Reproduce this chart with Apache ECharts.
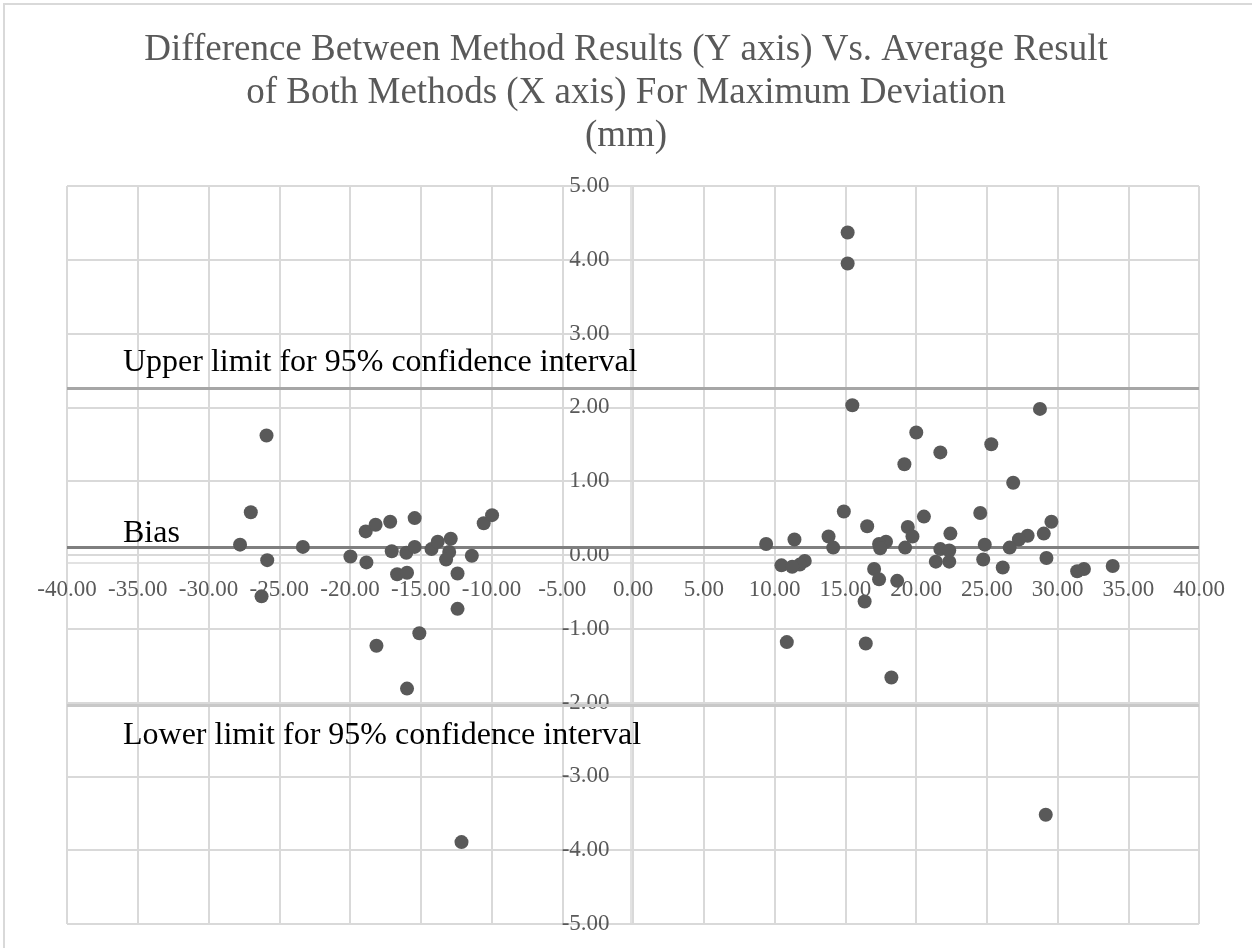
<!DOCTYPE html>
<html>
<head>
<meta charset="utf-8">
<script src="https://cdn.jsdelivr.net/npm/echarts@6/dist/echarts.min.js"></script>
<style>
  html, body { margin: 0; padding: 0; background: #fff; }
  #chart { width: 1252px; height: 948px; }
</style>
</head>
<body>
<div id="chart"></div>
<script>
// average of both methods (x) and difference between methods (y)
const avgX = [
  -25.90, -27.01, -27.77, -25.85, -23.33, -19.97, -18.89, -18.19, -18.84, -17.16,
  -17.05, -15.43, -16.02, -15.43, -14.24, -13.80, -12.88, -12.99, -13.21, -11.39,
  -10.55, -9.96, -16.67, -15.97, -12.40, -26.25, -12.40, -15.10, -18.13, -15.97,
  -12.12,
  15.17, 15.17, 15.50, 28.76, 20.02, 25.32, 21.72, 19.18, 26.87, 14.90,
  24.54, 20.56, 29.57, 16.55, 19.42, 22.43, 29.03, 27.89, 27.27, 13.82,
  11.41, 9.41, 19.75, 17.88, 17.39, 14.15, 19.23, 17.47, 24.86, 26.62,
  21.72, 22.35, 29.22, 24.75, 21.40, 22.35, 12.14, 11.79, 10.49, 11.25,
  26.13, 33.90, 31.87, 31.39, 17.04, 17.39, 18.67, 16.37, 10.87, 16.45,
  18.26, 29.17
];
const diffY = [
  1.62, 0.58, 0.14, -0.07, 0.11, -0.02, 0.32, 0.41, -0.10, 0.45,
  0.05, 0.50, 0.03, 0.11, 0.08, 0.18, 0.22, 0.04, -0.06, -0.01,
  0.43, 0.54, -0.26, -0.24, -0.25, -0.56, -0.73, -1.06, -1.23, -1.81,
  -3.89,
  4.37, 3.95, 2.03, 1.98, 1.66, 1.50, 1.39, 1.23, 0.98, 0.59,
  0.57, 0.52, 0.45, 0.39, 0.38, 0.29, 0.29, 0.26, 0.21, 0.25,
  0.21, 0.15, 0.25, 0.18, 0.15, 0.10, 0.10, 0.09, 0.14, 0.10,
  0.08, 0.06, -0.04, -0.06, -0.09, -0.09, -0.08, -0.13, -0.14, -0.16,
  -0.17, -0.15, -0.19, -0.22, -0.19, -0.33, -0.35, -0.63, -1.18, -1.20,
  -1.66, -3.52
];
const upperLimit = 2.26;
const bias = 0.11;
const lowerLimit = -2.04;
const limitNames = ['Upper limit for 95% confidence interval', 'Bias', 'Lower limit for 95% confidence interval'];

const points = avgX.map((x, i) => [x, diffY[i]]);
const serif = 'Liberation Serif';
const gridColor = '#d9d9d9';
const textColor = '#595959';

const chart = echarts.init(document.getElementById('chart'), null, { renderer: 'canvas' });

chart.setOption({
  animation: false,
  backgroundColor: '#fff',
  title: {
    text: 'Difference Between Method Results (Y axis) Vs. Average Result\nof Both Methods (X axis) For Maximum Deviation\n(mm)',
    left: 'center',
    top: 24,
    textStyle: {
      fontFamily: serif,
      fontSize: 37,
      fontWeight: 'normal',
      color: textColor,
      lineHeight: 43
    }
  },
  graphic: [{
    type: 'rect',
    shape: { x: 4, y: 4, width: 1300, height: 1000 },
    style: { fill: 'none', stroke: gridColor, lineWidth: 2 },
    silent: true
  }],
  grid: { left: 67, right: 53, top: 186, bottom: 24 },
  xAxis: {
    type: 'value',
    min: -40,
    max: 40,
    interval: 5,
    axisLine: { onZero: false, lineStyle: { color: gridColor, width: 1.5 } },
    axisTick: { show: false },
    axisLabel: {
      fontFamily: serif,
      fontSize: 23,
      color: textColor,
      margin: 16,
      formatter: v => v.toFixed(2)
    },
    splitLine: { lineStyle: { color: gridColor, width: 2 } }
  },
  yAxis: {
    type: 'value',
    min: -5,
    max: 5,
    interval: 1,
    axisLine: { onZero: false, lineStyle: { color: gridColor, width: 1.5 } },
    axisTick: { show: false },
    axisLabel: {
      fontFamily: serif,
      fontSize: 23,
      color: textColor,
      margin: 21,
      formatter: v => v.toFixed(2)
    },
    splitLine: { lineStyle: { color: gridColor, width: 2 } }
  },
  series: [{
    type: 'scatter',
    data: points,
    symbolSize: 14,
    itemStyle: { color: textColor, opacity: 1 },
    z: 5,
    markLine: {
      silent: true,
      symbol: 'none',
      animation: false,
      data: [
        {
          yAxis: upperLimit,
          name: limitNames[0],
          lineStyle: { color: '#a6a6a6', width: 3, type: 'solid' },
          label: { position: 'insideStartTop', distance: [56, 10] }
        },
        {
          yAxis: bias,
          name: limitNames[1],
          lineStyle: { color: '#7f7f7f', width: 3, type: 'solid' },
          label: { position: 'insideStartTop', distance: [56, -3] }
        },
        {
          yAxis: lowerLimit,
          name: limitNames[2],
          lineStyle: { color: '#c8c8c8', width: 3, type: 'solid' },
          label: { position: 'insideStartBottom', distance: [56, 14] }
        }
      ],
      label: {
        show: true,
        formatter: p => p.name,
        fontFamily: serif,
        fontSize: 32,
        color: '#000'
      }
    }
  }]
});

// move both axes so they cross at the origin, like the original chart
const origin = chart.convertToPixel({ gridIndex: 0 }, [0, 0]);
const corner = chart.convertToPixel({ gridIndex: 0 }, [-40, -5]);
chart.setOption({
  xAxis: { offset: origin[1] - corner[1] },
  yAxis: { offset: corner[0] - origin[0] }
});
</script>
</body>
</html>
